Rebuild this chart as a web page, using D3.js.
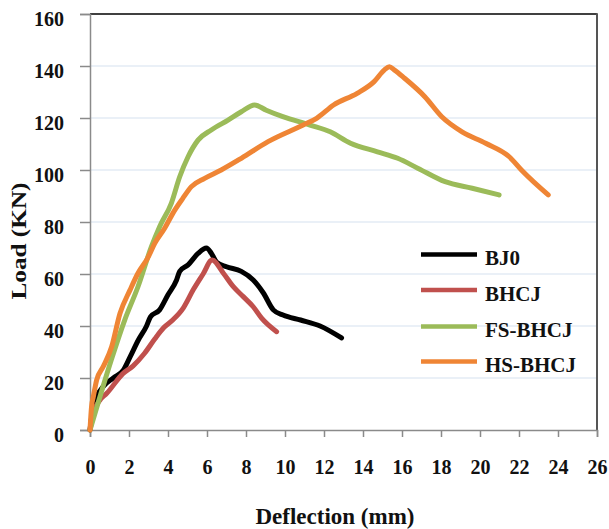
<!DOCTYPE html>
<html>
<head>
<meta charset="utf-8">
<script src="https://cdn.jsdelivr.net/npm/d3@7"></script>
<style>
  html, body { margin: 0; padding: 0; background: #fff; }
  svg { display: block; }
  text { font-family: "Liberation Serif", "Times New Roman", serif; font-weight: bold; fill: #111; }
</style>
</head>
<body>
<svg id="chart" width="609" height="529"></svg>
<script>
// ---- data ----
const seriesNames = ["BJ0", "BHCJ", "FS-BHCJ", "HS-BHCJ"];
const seriesColors = ["#000000", "#C0504D", "#9BBB59", "#EF8535"];

const bj0X = [0, 0.2, 0.68, 1.2, 1.71, 2.05, 2.48, 2.9, 3.1, 3.57, 4.0, 4.44, 4.6, 5.03, 5.54, 5.97, 6.22, 6.5, 7.0, 7.76, 8.37, 8.9, 9.4, 9.9, 10.8, 11.8, 12.9];
const bj0Y = [0, 10, 16.7, 20, 23, 28, 34.6, 40, 43.5, 46.2, 52, 57.7, 61, 63.5, 67.9, 70, 68, 64.5, 62.8, 61, 57.7, 52.6, 46.2, 44.2, 42.3, 40, 35.4];

const bhcjX = [0, 0.2, 0.51, 0.86, 1.7, 2.2, 2.8, 3.32, 3.8, 4.27, 4.79, 5.3, 5.8, 6.26, 6.84, 7.35, 7.86, 8.37, 8.8, 9.57];
const bhcjY = [0, 7, 11.5, 14.1, 21.8, 24.6, 29.5, 35, 39.5, 42.5, 47, 54, 60, 65.4, 60.3, 55.1, 51.3, 47.4, 43, 37.8];

const fsX = [0, 0.51, 1.09, 1.78, 2.46, 3.15, 3.57, 4.17, 4.6, 5.03, 5.54, 6.22, 7.08, 7.76, 8.44, 9.04, 9.89, 11.28, 12.32, 13.36, 14.74, 15.78, 16.83, 18.21, 19.6, 20.98];
const fsY = [0, 12.8, 26.9, 42.3, 55.1, 70.5, 78.2, 87.2, 97.4, 105.1, 111.5, 115.4, 119.2, 122.4, 125, 123, 120.5, 117.3, 114.7, 110.3, 107, 104.5, 100.6, 95.5, 93, 90.4];

const hsX = [0, 0.08, 0.17, 0.34, 0.68, 1.11, 1.54, 2.05, 2.46, 2.95, 3.32, 3.82, 4.3, 4.75, 5.2, 5.88, 6.73, 7.76, 9.13, 10.93, 11.62, 12.49, 13.7, 14.57, 15.1, 15.35, 15.6, 16.13, 17.17, 18.04, 19.08, 20.29, 21.5, 22.2, 23.5];
const hsY = [0, 9, 12.8, 19.2, 24.4, 32, 44.9, 53.8, 60.3, 66, 71.8, 77.5, 84, 89, 93.6, 96.8, 100, 104.5, 110.9, 117.3, 119.9, 125, 129.5, 134, 138.5, 139.7, 138.5, 135.3, 128.2, 120.5, 114.7, 110.3, 105.1, 99.4, 90.4];

const xTicks = [0, 2, 4, 6, 8, 10, 12, 14, 16, 18, 20, 22, 24, 26];
const yTicks = [0, 20, 40, 60, 80, 100, 120, 140, 160];
const xTitle = "Deflection (mm)";
const yTitle = "Load (KN)";

// ---- layout ----
const svg = d3.select("#chart");
const L = 90, R = 597, T = 14, B = 430;
const x = d3.scaleLinear().domain([0, 26]).range([L, R]);
const y = d3.scaleLinear().domain([0, 160]).range([B, T]);

// gridlines
svg.append("g").selectAll("line")
  .data(yTicks.filter(v => v > 0 && v < 160))
  .join("line")
  .attr("x1", L).attr("x2", R)
  .attr("y1", d => y(d)).attr("y2", d => y(d))
  .attr("stroke", "#D6E2F0").attr("stroke-width", 1.2);

// top and right border
svg.append("line").attr("x1", L).attr("x2", R).attr("y1", T).attr("y2", T)
  .attr("stroke", "#000").attr("stroke-width", 1.5);
svg.append("line").attr("x1", R).attr("x2", R).attr("y1", T - 0.75).attr("y2", B)
  .attr("stroke", "#555").attr("stroke-width", 2);

// y axis
const yAxis = svg.append("g").attr("transform", `translate(${L},0)`)
  .call(d3.axisLeft(y).tickValues(yTicks).tickSize(10).tickPadding(16).tickFormat(d3.format("d")));
yAxis.select(".domain").attr("stroke", "#8a8a8a").attr("stroke-width", 1.5);
yAxis.selectAll(".tick line").attr("stroke", "#8a8a8a").attr("stroke-width", 1.5);
yAxis.selectAll(".tick text").attr("font-size", 20).attr("dy", "0.55em")
  .attr("font-family", "Liberation Serif").attr("font-weight", "bold").attr("fill", "#111");

// x axis
const xAxis = svg.append("g").attr("transform", `translate(0,${B})`)
  .call(d3.axisBottom(x).tickValues(xTicks).tickSize(7).tickPadding(30).tickFormat(d3.format("d")));
xAxis.select(".domain").attr("stroke", "#8a8a8a").attr("stroke-width", 1.5);
xAxis.selectAll(".tick line").attr("stroke", "#8a8a8a").attr("stroke-width", 1.5);
xAxis.selectAll(".tick text").attr("font-size", 20).attr("dy", "0")
  .attr("font-family", "Liberation Serif").attr("font-weight", "bold").attr("fill", "#111");
xAxis.selectAll(".tick text").attr("y", 44);

// series
const series = [
  { name: seriesNames[0], color: seriesColors[0], xs: bj0X, ys: bj0Y },
  { name: seriesNames[1], color: seriesColors[1], xs: bhcjX, ys: bhcjY },
  { name: seriesNames[2], color: seriesColors[2], xs: fsX, ys: fsY },
  { name: seriesNames[3], color: seriesColors[3], xs: hsX, ys: hsY }
];
const line = d3.line().x(d => x(d[0])).y(d => y(d[1])).curve(d3.curveMonotoneX);
svg.append("g").selectAll("path")
  .data(series)
  .join("path")
  .attr("d", s => line(s.xs.map((v, i) => [v, s.ys[i]])))
  .attr("fill", "none")
  .attr("stroke", s => s.color)
  .attr("stroke-width", 5)
  .attr("stroke-linejoin", "round")
  .attr("stroke-linecap", "round");

// legend
const legY = [254.5, 290, 326.5, 361.5];
const leg = svg.append("g").selectAll("g").data(series).join("g")
  .attr("transform", (d, i) => `translate(0,${legY[i]})`);
leg.append("line").attr("x1", 421).attr("x2", 477).attr("y1", 0).attr("y2", 0)
  .attr("stroke", d => d.color).attr("stroke-width", 4.5);
leg.append("text").attr("x", 485).attr("y", 10.5).attr("font-size", 21).text(d => d.name);

// axis titles
svg.append("text").attr("x", 335).attr("y", 524).attr("text-anchor", "middle")
  .attr("font-size", 23).text(xTitle);
svg.append("text").attr("transform", "translate(26,241) rotate(-90)")
  .attr("text-anchor", "middle").attr("font-size", 20)
  .attr("textLength", 117).attr("lengthAdjust", "spacingAndGlyphs").text(yTitle);
</script>
</body>
</html>
